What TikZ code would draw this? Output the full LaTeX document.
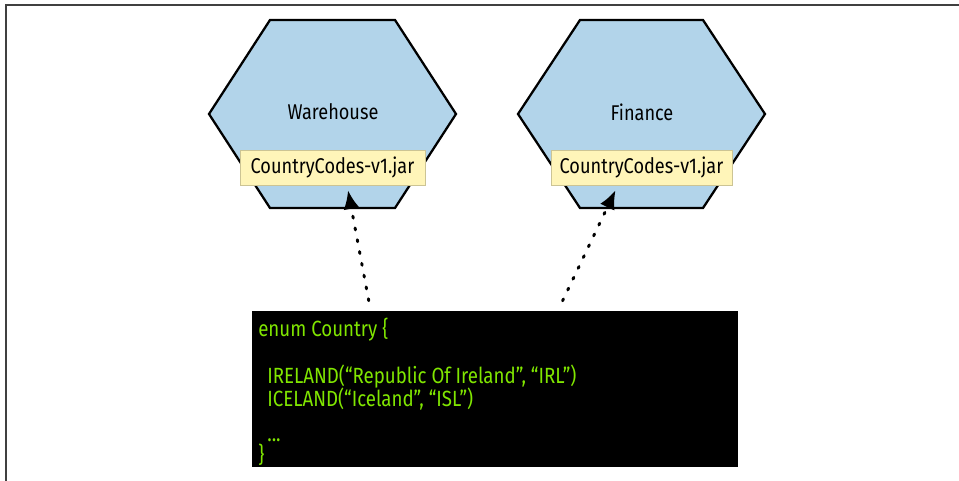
\documentclass[tikz,border=0pt]{standalone}
\usepackage{fontspec}
\setmainfont[FakeStretch=0.85]{Fira Sans}
\usetikzlibrary{arrows.meta}
\definecolor{hexblue}{HTML}{B2D4EA}
\definecolor{jaryellow}{HTML}{FFF5B9}
\definecolor{codegreen}{HTML}{80E600}
\tikzset{
  hexa/.style={draw=black,line width=1.7pt,fill=hexblue,line join=miter},
  jar/.style={fill=jaryellow,draw=jaryellow!80!black,line width=0.4pt,minimum width=185\pxu,minimum height=35\pxu,inner sep=0pt,font=\fontsize{16}{18}\selectfont},
  lbl/.style={font=\fontsize{16}{18}\selectfont},
  codeline/.style={anchor=base west,inner sep=0pt,text=codegreen,font=\fontsize{16.5}{18}\selectfont},
  dep/.style={line width=2.2pt,line cap=round,dash pattern=on 1.5pt off 7.5pt,-{Latex[length=14pt,width=12pt]},shorten <=1pt}
}
\newlength{\pxu}\setlength{\pxu}{0.75pt}
\begin{document}
\begin{tikzpicture}[x=0.75pt,y=-0.75pt]
\useasboundingbox (0,0) rectangle (959,481);
\draw[black!75,line width=1.5pt] (6,481) -- (6,5) -- (959,5);
% the two services
\draw[hexa] (209,114) -- (270,20) -- (395,20) -- (456,114) -- (395,208) -- (270,208) -- cycle;
\draw[hexa] (518,114) -- (580,20) -- (703,20) -- (765,114) -- (703,208) -- (580,208) -- cycle;
\node[lbl] (warehouse) at (333,112) {Warehouse};
\node[lbl] (finance) at (642,112) {Finance};
\node[jar] (wjar) at (332.5,167.5) {CountryCodes-v1.jar};
\node[jar,minimum width=181\pxu] (fjar) at (641.5,167.5) {CountryCodes-v1.jar};
% shared code
\node[fill=black,minimum width=486\pxu,minimum height=156\pxu,anchor=north west,inner sep=0pt] (code) at (251.5,311) {};
\node[codeline] (c1) at (258,336) {enum Country \{};
\node[codeline] (c2) at (267,383) {IRELAND(“Republic Of Ireland”, “IRL”)};
\node[codeline] (c3) at (267,406) {ICELAND(“Iceland”, “ISL”)};
\node[codeline] (c4) at (267,441) {...};
\node[codeline] (c5) at (258,462) {\}};
\coordinate (wfrom) at (369,302);
\coordinate (ffrom) at (562,302);
\draw[dep] (wfrom) -- ([xshift=15.5\pxu,yshift=-5\pxu]wjar.south);
\draw[dep] (ffrom) -- ([xshift=-26\pxu,yshift=-5\pxu]fjar.south);
\end{tikzpicture}
\end{document}
